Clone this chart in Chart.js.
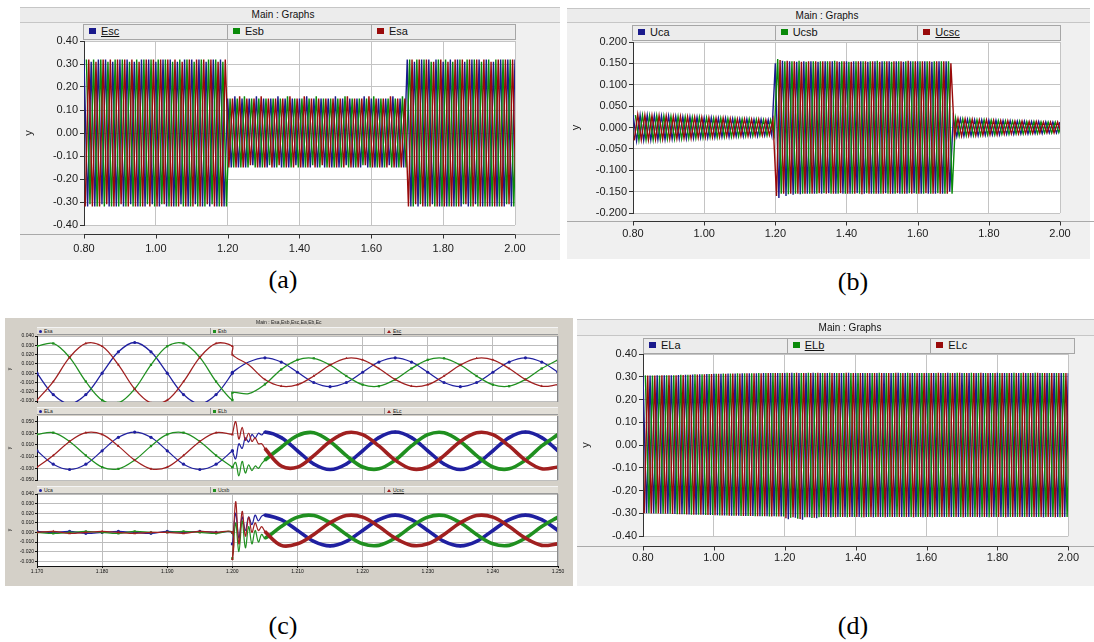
<!DOCTYPE html>
<html>
<head>
<meta charset="utf-8">
<title>Main : Graphs</title>
<script src="https://cdn.jsdelivr.net/npm/chart.js@4.4.1/dist/chart.umd.min.js"></script>
<style>
  body { margin: 0; width: 1094px; height: 642px; position: relative; overflow: hidden; background: #fff; font-family: "Liberation Sans", Arial, sans-serif; }
  .panel { position: absolute; background: #f0f0f0; }
  .bar { position: absolute; background: #ececec; border-top: 1px solid #c6c6c6; border-bottom: 1px solid #c6c6c6; box-sizing: border-box; z-index: 3; }
  .ttl { position: absolute; width: 200px; text-align: center; font-size: 10px; color: #111; z-index: 4; }
  .legend { position: absolute; display: flex; background: #ececec; border: 1px solid #a6a6a6; box-sizing: border-box; z-index: 3; }
  .legend div { flex: 1; border-right: 1px solid #a6a6a6; font-size: 11px; line-height: 13px; padding-left: 5px; white-space: nowrap; color: #111; }
  .legend div:last-child { border-right: none; }
  .sw { display: inline-block; width: 7px; height: 6px; margin-right: 5px; vertical-align: 1px; }
  canvas { position: absolute; z-index: 2; }
  .cap { position: absolute; font-family: "Liberation Serif", "Times New Roman", serif; font-size: 26px; color: #000; transform: translateX(-50%); }
  .cpanel { position: absolute; background: #d4d0c8; }
  .cttl { position: absolute; font-size: 5px; color: #222; z-index: 4; white-space: nowrap; }
  .clegend { position: absolute; display: flex; background: #e2dfd8; border-bottom: 1px solid #9a9a9a; border-top: 1px solid #f4f4f4; box-sizing: border-box; z-index: 3; }
  .clegend div { flex: 1; border-right: 1px solid #9a9a9a; font-size: 5px; line-height: 6px; padding-left: 2px; white-space: nowrap; color: #222; }
  .clegend div:last-child { border-right: none; }
  .mk { display: inline-block; width: 3px; height: 3px; margin-right: 2px; vertical-align: 0; }
  .tri { display: inline-block; width: 0; height: 0; border-left: 2px solid transparent; border-right: 2px solid transparent; border-bottom: 3px solid #a02020; margin-right: 2px; }
</style>
</head>
<body>

<!-- (a) -->
<div class="panel" style="left:20px;top:7px;width:540px;height:253px"></div>
<div class="bar" style="left:20px;top:7px;width:540px;height:16px"></div>
<div class="ttl" style="left:183px;top:9px">Main : Graphs</div>
<div class="legend" style="left:83px;top:24px;width:433px;height:16px">
  <div><span class="sw" style="background:#1a1a8c"></span><u>Esc</u></div>
  <div><span class="sw" style="background:#0a8a0a"></span>Esb</div>
  <div><span class="sw" style="background:#990a0a"></span>Esa</div>
</div>
<canvas id="chartA" width="540" height="231" style="left:20px;top:29px"></canvas>

<!-- (b) -->
<div class="panel" style="left:567px;top:8px;width:523px;height:251px"></div>
<div class="bar" style="left:567px;top:8px;width:523px;height:15px"></div>
<div class="ttl" style="left:727px;top:10px">Main : Graphs</div>
<div class="legend" style="left:632px;top:25px;width:429px;height:16px">
  <div><span class="sw" style="background:#1a1a8c"></span>Uca</div>
  <div><span class="sw" style="background:#0a8a0a"></span>Ucsb</div>
  <div><span class="sw" style="background:#990a0a"></span><u>Ucsc</u></div>
</div>
<canvas id="chartB" width="527" height="230" style="left:567px;top:29px"></canvas>

<!-- (c) -->
<div class="cpanel" style="left:5px;top:318px;width:568px;height:268px"></div>
<div class="cttl" style="left:256px;top:319px">Main : Esa,Esb,Esc,Ea,Eb,Ec</div>
<div class="clegend" style="left:37px;top:327px;width:521px;height:8px">
  <div><span class="mk" style="background:#2020a0;border-radius:50%"></span>Esa</div>
  <div><span class="mk" style="background:#209020"></span>Esb</div>
  <div><span class="tri"></span><u>Esc</u></div>
</div>
<div class="clegend" style="left:37px;top:407px;width:521px;height:8px">
  <div><span class="mk" style="background:#2020a0;border-radius:50%"></span>ELa</div>
  <div><span class="mk" style="background:#209020"></span>ELb</div>
  <div><span class="tri"></span><u>ELc</u></div>
</div>
<div class="clegend" style="left:37px;top:486px;width:521px;height:8px">
  <div><span class="mk" style="background:#2020a0;border-radius:50%"></span>Uca</div>
  <div><span class="mk" style="background:#209020"></span>Ucsb</div>
  <div><span class="tri"></span><u>Ucsc</u></div>
</div>
<canvas id="chartC1" width="568" height="76" style="left:5px;top:330px"></canvas>
<canvas id="chartC2" width="568" height="72" style="left:5px;top:412px"></canvas>
<canvas id="chartC3" width="568" height="96" style="left:5px;top:490px"></canvas>

<!-- (d) -->
<div class="panel" style="left:577px;top:319px;width:517px;height:267px"></div>
<div class="bar" style="left:577px;top:319px;width:517px;height:17px"></div>
<div class="ttl" style="left:750px;top:322px">Main : Graphs</div>
<div class="legend" style="left:643px;top:338px;width:432px;height:16px">
  <div><span class="sw" style="background:#1a1a8c"></span>ELa</div>
  <div><span class="sw" style="background:#0a8a0a"></span><u>ELb</u></div>
  <div><span class="sw" style="background:#990a0a"></span>ELc</div>
</div>
<canvas id="chartD" width="517" height="245" style="left:577px;top:341px"></canvas>

<div class="cap" style="left:283px;top:265px">(a)</div>
<div class="cap" style="left:853px;top:267px">(b)</div>
<div class="cap" style="left:283px;top:611px">(c)</div>
<div class="cap" style="left:853px;top:611px">(d)</div>

<script>
// ---- dense panels: one signed peak per half cycle (50 Hz -> 0.01 s) ----
const HALF_PERIOD = 0.01;

// (a) Esc / Esb / Esa
const startsA = [0.8, 0.80667, 0.80333];
const escPeaks = [
  0.32,-0.32,0.31,-0.32,0.32,-0.31,0.32,-0.32,0.31,-0.32,
  0.32,-0.32,0.32,-0.31,0.31,-0.32,0.32,-0.32,0.32,-0.31,
  0.31,-0.32,0.32,-0.32,0.32,-0.32,0.31,-0.31,0.32,-0.32,
  0.32,-0.31,0.32,-0.32,0.31,-0.32,0.32,-0.32,0.32,-0.32,
  0.15,-0.15,0.16,-0.15,0.15,-0.15,0.15,-0.14,0.16,-0.15,
  0.15,-0.15,0.15,-0.15,0.16,-0.15,0.15,-0.15,0.15,-0.14,
  0.15,-0.15,0.16,-0.15,0.15,-0.15,0.15,-0.15,0.15,-0.15,
  0.16,-0.15,0.15,-0.14,0.15,-0.15,0.15,-0.15,0.16,-0.15,
  0.15,-0.15,0.15,-0.15,0.15,-0.14,0.16,-0.15,0.15,-0.15,
  0.32,-0.32,0.31,-0.32,0.32,-0.32,0.32,-0.31,0.32,-0.32,
  0.31,-0.32,0.32,-0.32,0.32,-0.32,0.31,-0.32,0.32,-0.31,
  0.32,-0.32,0.32,-0.32,0.31,-0.32,0.32,-0.32,0.32,-0.32,0.32
];
const esbPeaks = [
  0.32,-0.31,0.32,-0.32,0.32,-0.32,0.31,-0.32,0.32,-0.32,
  0.32,-0.32,0.31,-0.32,0.32,-0.32,0.32,-0.31,0.32,-0.32,
  0.32,-0.31,0.32,-0.32,0.31,-0.32,0.32,-0.32,0.32,-0.32,
  0.31,-0.32,0.32,-0.32,0.32,-0.31,0.32,-0.32,0.31,-0.32,
  0.15,-0.15,0.15,-0.15,0.16,-0.15,0.15,-0.15,0.15,-0.15,
  0.15,-0.14,0.15,-0.15,0.15,-0.15,0.16,-0.15,0.15,-0.15,
  0.15,-0.15,0.15,-0.14,0.16,-0.15,0.15,-0.15,0.15,-0.15,
  0.15,-0.15,0.16,-0.15,0.15,-0.15,0.15,-0.14,0.15,-0.15,
  0.16,-0.15,0.15,-0.15,0.15,-0.15,0.15,-0.15,0.16,-0.15,
  0.32,-0.32,0.32,-0.31,0.32,-0.32,0.31,-0.32,0.32,-0.32,
  0.32,-0.32,0.31,-0.32,0.32,-0.31,0.32,-0.32,0.32,-0.32,
  0.31,-0.32,0.32,-0.32,0.32,-0.32,0.32,-0.31,0.32,-0.32,0.31
];
const esaPeaks = [
  -0.32,0.32,-0.32,0.31,-0.32,0.32,-0.31,0.32,-0.32,0.32,
  -0.31,0.32,-0.32,0.32,-0.32,0.31,-0.32,0.32,-0.32,0.32,
  -0.32,0.32,-0.31,0.32,-0.32,0.32,-0.32,0.31,-0.32,0.32,
  -0.32,0.32,-0.32,0.32,-0.31,0.32,-0.32,0.31,-0.32,0.32,
  -0.15,0.15,-0.15,0.16,-0.15,0.15,-0.14,0.15,-0.15,0.16,
  -0.15,0.15,-0.15,0.15,-0.14,0.15,-0.15,0.16,-0.15,0.15,
  -0.15,0.16,-0.15,0.15,-0.15,0.15,-0.14,0.15,-0.15,0.15,
  -0.15,0.15,-0.15,0.16,-0.15,0.15,-0.15,0.15,-0.14,0.16,
  -0.15,0.15,-0.15,0.15,-0.15,0.16,-0.15,0.15,-0.15,0.15,
  -0.32,0.32,-0.31,0.32,-0.32,0.32,-0.32,0.31,-0.32,0.32,
  -0.32,0.31,-0.32,0.32,-0.32,0.32,-0.31,0.32,-0.32,0.32,
  -0.32,0.32,-0.32,0.31,-0.32,0.32,-0.32,0.32,-0.31,0.32,-0.32
];

// (b) Uca / Ucsb / Ucsc
const startsB = [0.8, 0.80667, 0.80333];
const ucaPeaks = [
  0.030,-0.031,0.029,-0.030,0.029,-0.029,0.028,-0.028,0.027,-0.028,
  0.027,-0.027,0.026,-0.026,0.025,-0.026,0.025,-0.025,0.024,-0.024,
  0.023,-0.024,0.023,-0.023,0.022,-0.022,0.022,-0.022,0.021,-0.021,
  0.020,-0.021,0.020,-0.020,0.019,-0.020,0.019,-0.019,0.018,-0.019,
  0.150,-0.165,0.156,-0.160,0.155,-0.157,0.154,-0.156,0.155,-0.155,
  0.155,-0.155,0.154,-0.155,0.155,-0.154,0.155,-0.155,0.154,-0.155,
  0.155,-0.155,0.155,-0.154,0.155,-0.155,0.154,-0.155,0.155,-0.155,
  0.155,-0.154,0.155,-0.155,0.155,-0.155,0.154,-0.155,0.155,-0.154,
  0.155,-0.155,0.155,-0.155,0.154,-0.155,0.155,-0.155,0.155,-0.150,
  0.022,-0.021,0.020,-0.020,0.019,-0.019,0.018,-0.019,0.018,-0.018,
  0.017,-0.017,0.017,-0.017,0.016,-0.016,0.016,-0.016,0.015,-0.015,
  0.015,-0.015,0.014,-0.014,0.014,-0.014,0.013,-0.013,0.013,-0.013,0.013
];
const ucsbPeaks = [
  0.029,-0.030,0.029,-0.029,0.028,-0.029,0.028,-0.028,0.027,-0.027,
  0.026,-0.027,0.026,-0.026,0.025,-0.025,0.024,-0.025,0.024,-0.024,
  0.023,-0.023,0.022,-0.023,0.022,-0.022,0.021,-0.022,0.021,-0.021,
  0.020,-0.020,0.020,-0.020,0.019,-0.019,0.018,-0.019,0.018,-0.018,
  0.160,-0.155,0.155,-0.156,0.155,-0.155,0.156,-0.155,0.154,-0.155,
  0.155,-0.155,0.155,-0.154,0.155,-0.155,0.156,-0.155,0.155,-0.155,
  0.154,-0.155,0.155,-0.155,0.155,-0.154,0.155,-0.155,0.156,-0.155,
  0.155,-0.155,0.154,-0.155,0.155,-0.155,0.155,-0.154,0.155,-0.155,
  0.155,-0.155,0.155,-0.155,0.155,-0.154,0.155,-0.155,0.155,-0.155,
  0.021,-0.020,0.020,-0.019,0.019,-0.019,0.018,-0.018,0.018,-0.017,
  0.017,-0.017,0.016,-0.016,0.016,-0.016,0.015,-0.015,0.015,-0.015,
  0.014,-0.014,0.014,-0.014,0.013,-0.013,0.013,-0.013,0.013,-0.012,0.012
];
const ucscPeaks = [
  -0.030,0.030,-0.029,0.029,-0.029,0.028,-0.028,0.028,-0.027,0.027,
  -0.027,0.026,-0.026,0.026,-0.025,0.025,-0.025,0.024,-0.024,0.024,
  -0.023,0.023,-0.023,0.022,-0.022,0.022,-0.021,0.021,-0.021,0.020,
  -0.020,0.020,-0.020,0.019,-0.019,0.019,-0.019,0.018,-0.018,0.018,
  -0.160,0.158,-0.155,0.156,-0.155,0.155,-0.155,0.154,-0.155,0.155,
  -0.155,0.155,-0.154,0.155,-0.155,0.155,-0.155,0.155,-0.154,0.155,
  -0.155,0.154,-0.155,0.155,-0.156,0.155,-0.155,0.155,-0.155,0.154,
  -0.155,0.155,-0.155,0.155,-0.154,0.155,-0.155,0.156,-0.155,0.155,
  -0.155,0.155,-0.154,0.155,-0.155,0.155,-0.155,0.155,-0.155,0.150,
  -0.021,0.021,-0.020,0.020,-0.019,0.019,-0.019,0.018,-0.018,0.018,
  -0.017,0.017,-0.017,0.016,-0.016,0.016,-0.015,0.015,-0.015,0.015,
  -0.014,0.014,-0.014,0.014,-0.013,0.013,-0.013,0.013,-0.013,0.013,-0.012
];

// (d) ELa / ELb / ELc
const startsD = [0.8, 0.80667, 0.80333];
const elaPeaks = [
  0.305,-0.300,0.305,-0.301,0.306,-0.302,0.306,-0.302,0.307,-0.303,
  0.308,-0.304,0.309,-0.305,0.310,-0.306,0.311,-0.307,0.312,-0.308,
  0.313,-0.309,0.313,-0.310,0.314,-0.311,0.314,-0.311,0.315,-0.312,
  0.315,-0.312,0.315,-0.313,0.316,-0.313,0.316,-0.313,0.316,-0.314,
  0.316,-0.326,0.317,-0.320,0.316,-0.328,0.316,-0.318,0.317,-0.322,
  0.316,-0.316,0.316,-0.317,0.316,-0.316,0.316,-0.316,0.317,-0.316,
  0.316,-0.316,0.316,-0.316,0.316,-0.317,0.316,-0.316,0.316,-0.316,
  0.316,-0.316,0.317,-0.316,0.316,-0.316,0.316,-0.316,0.316,-0.317,
  0.316,-0.316,0.316,-0.316,0.316,-0.316,0.317,-0.316,0.316,-0.316,
  0.316,-0.316,0.316,-0.316,0.316,-0.317,0.316,-0.316,0.316,-0.316,
  0.317,-0.316,0.316,-0.316,0.316,-0.316,0.316,-0.316,0.316,-0.316,
  0.316,-0.316,0.316,-0.317,0.316,-0.316,0.316,-0.316,0.316,-0.316,0.316
];
const elbPeaks = [
  0.306,-0.300,0.305,-0.301,0.305,-0.302,0.307,-0.302,0.307,-0.304,
  0.309,-0.304,0.309,-0.306,0.311,-0.306,0.311,-0.308,0.312,-0.308,
  0.313,-0.310,0.314,-0.310,0.314,-0.311,0.315,-0.312,0.315,-0.312,
  0.315,-0.313,0.316,-0.313,0.316,-0.314,0.316,-0.314,0.316,-0.314,
  0.317,-0.320,0.316,-0.324,0.316,-0.318,0.317,-0.321,0.316,-0.317,
  0.316,-0.316,0.317,-0.316,0.316,-0.316,0.316,-0.317,0.316,-0.316,
  0.316,-0.317,0.316,-0.316,0.316,-0.316,0.317,-0.316,0.316,-0.316,
  0.316,-0.316,0.316,-0.316,0.317,-0.316,0.316,-0.316,0.316,-0.316,
  0.316,-0.317,0.316,-0.316,0.316,-0.316,0.316,-0.316,0.317,-0.316,
  0.316,-0.316,0.317,-0.316,0.316,-0.316,0.316,-0.317,0.316,-0.316,
  0.316,-0.316,0.316,-0.316,0.317,-0.316,0.316,-0.316,0.316,-0.316,
  0.317,-0.316,0.316,-0.316,0.316,-0.316,0.316,-0.317,0.316,-0.316,0.316
];
const elcPeaks = [
  -0.300,0.305,-0.301,0.305,-0.301,0.306,-0.302,0.306,-0.303,0.307,
  -0.304,0.308,-0.305,0.309,-0.306,0.310,-0.307,0.311,-0.308,0.312,
  -0.309,0.313,-0.310,0.313,-0.311,0.314,-0.311,0.314,-0.312,0.315,
  -0.312,0.315,-0.313,0.315,-0.313,0.316,-0.314,0.316,-0.314,0.316,
  -0.322,0.316,-0.318,0.317,-0.325,0.316,-0.317,0.316,-0.320,0.317,
  -0.316,0.316,-0.316,0.316,-0.317,0.316,-0.316,0.317,-0.316,0.316,
  -0.316,0.316,-0.317,0.316,-0.316,0.316,-0.316,0.316,-0.317,0.316,
  -0.316,0.317,-0.316,0.316,-0.316,0.316,-0.317,0.316,-0.316,0.316,
  -0.316,0.316,-0.316,0.317,-0.316,0.316,-0.316,0.316,-0.316,0.317,
  -0.317,0.316,-0.316,0.316,-0.316,0.317,-0.316,0.316,-0.316,0.316,
  -0.316,0.316,-0.317,0.316,-0.316,0.316,-0.316,0.317,-0.316,0.316,
  -0.316,0.317,-0.316,0.316,-0.316,0.316,-0.317,0.316,-0.316,0.316,-0.316
];

// ---- (c) zoom on the fault at t = 1.2 s ----
const cTime = [
  1.170,1.1725,1.175,1.1775,1.180,1.1825,1.185,1.1875,1.190,1.1925,1.195,1.1975,1.200,
  1.200,1.2025,1.205,1.2075,1.210,1.2125,1.215,1.2175,1.220,1.2225,1.225,1.2275,
  1.230,1.2325,1.235,1.2375,1.240,1.2425,1.245,1.2475,1.250
];
const esaC = [
  0,-0.023,-0.033,-0.023,0,0.023,0.033,0.023,0,-0.023,-0.033,-0.023,0,
  0.001,0.012,0.0165,0.012,0.001,-0.010,-0.0145,-0.010,0.001,0.012,0.0165,0.012,
  0.001,-0.010,-0.0145,-0.010,0.001,0.012,0.0165,0.012,0.001
];
const esbC = [
  0.029,0.032,0.017,-0.009,-0.029,-0.032,-0.017,0.009,0.029,0.032,0.017,-0.009,-0.029,
  -0.021,-0.022,-0.012,0.004,0.0144,0.016,0.0088,-0.003,-0.0124,-0.014,-0.0068,0.005,
  0.0144,0.016,0.0088,-0.003,-0.0124,-0.014,-0.0068,0.005,0.0144
];
const escC = [
  -0.029,-0.009,0.017,0.032,0.029,0.009,-0.017,-0.032,-0.029,-0.009,0.017,0.032,0.029,
  0.020,0.009,-0.0068,-0.014,-0.0124,-0.003,0.0088,0.016,0.0144,0.005,-0.0068,-0.014,
  -0.0124,-0.003,0.0088,0.016,0.0144,0.005,-0.0068,-0.014,-0.0124
];

const cTimeT = [
  1.170,1.1725,1.175,1.1775,1.180,1.1825,1.185,1.1875,1.190,1.1925,1.195,1.1975,1.200,
  1.200,1.2005,1.201,1.2015,1.202,1.2025,1.203,1.2035,1.204,1.2045,1.205,
  1.2075,1.210,1.2125,1.215,1.2175,1.220,1.2225,1.225,1.2275,
  1.230,1.2325,1.235,1.2375,1.240,1.2425,1.245,1.2475,1.250
];
const elaC = [
  0,-0.023,-0.032,-0.023,0,0.023,0.032,0.023,0,-0.023,-0.032,-0.023,0,
  0,-0.014,0.012,0.004,0.022,0.015,0.028,0.022,0.030,0.027,0.032,
  0.0226,0,-0.0226,-0.032,-0.0226,0,0.0226,0.032,0.0226,
  0,-0.0226,-0.032,-0.0226,0,0.0226,0.032,0.0226,0
];
const elbC = [
  0.028,0.031,0.016,-0.008,-0.028,-0.031,-0.016,0.008,0.028,0.031,0.016,-0.008,-0.028,
  -0.028,-0.020,-0.043,-0.018,-0.038,-0.024,-0.034,-0.026,-0.030,-0.022,-0.016,
  0.006,0.026,0.0309,0.016,-0.0083,-0.0277,-0.0309,-0.016,0.0083,
  0.0277,0.0309,0.016,-0.0083,-0.0277,-0.0309,-0.016,0.0083,0.0277
];
const elcC = [
  -0.028,-0.008,0.016,0.031,0.028,0.008,-0.016,-0.031,-0.028,-0.008,0.016,0.031,0.028,
  0.028,0.050,0.020,0.040,0.018,0.030,0.016,0.022,0.012,0.012,0.004,
  -0.026,-0.028,-0.0083,0.016,0.0309,0.0277,0.0083,-0.016,-0.0309,
  -0.0277,-0.0083,0.016,0.0309,0.0277,0.0083,-0.016,-0.0309,-0.0277
];
const ucaC = [
  0.001,0,0.001,-0.001,0,0.001,0,-0.001,0.001,0,0.001,0,0,
  -0.012,0.020,-0.006,0.016,0.002,0.016,0.008,0.018,0.012,0.017,0.018,
  0.0133,0.002,-0.0093,-0.014,-0.0093,0.002,0.0133,0.018,0.0133,
  0.002,-0.0093,-0.014,-0.0093,0.002,0.0133,0.018,0.0133,0.002
];
const ucsbC = [
  0,-0.001,0,0.001,0,-0.001,0.001,0,0,0.001,0,-0.001,0,
  -0.027,0.010,-0.020,0.012,-0.016,0.006,-0.012,0.002,-0.010,-0.002,-0.006,
  0.0061,0.0159,0.0175,0.010,-0.0021,-0.0119,-0.0135,-0.006,0.0061,
  0.0159,0.0175,0.010,-0.0021,-0.0119,-0.0135,-0.006,0.0061,0.0159
];
const ucscC = [
  0,0.001,-0.001,0,0.001,0,-0.001,0,0,-0.001,0.001,0,0,
  -0.028,0.032,-0.012,0.022,-0.004,0.016,0,0.010,0.002,0.006,0.001,
  -0.0135,-0.0119,-0.0021,0.010,0.0175,0.0159,0.0061,-0.006,-0.0135,
  -0.0119,-0.0021,0.010,0.0175,0.0159,0.0061,-0.006,-0.0135,-0.0119
];

const DENSE_COLORS = ['#1a1a8c', '#0a8a0a', '#990a0a'];
const SUB_COLORS = ['#2020a0', '#209020', '#a02020'];
const SUB_MARKERS = ['circle', 'rect', 'triangle'];

// white plot background + detached x axis line like the PSCAD graphs
const framePlugin = {
  id: 'frame',
  beforeDraw(chart) {
    const { ctx, chartArea: a } = chart;
    ctx.save();
    ctx.fillStyle = '#ffffff';
    ctx.fillRect(a.left, a.top, a.right - a.left, a.bottom - a.top);
    ctx.restore();
  },
  afterDraw(chart, args, opts) {
    const { ctx, chartArea: a } = chart;
    ctx.save();
    ctx.lineWidth = 1;
    if (opts.edge) {
      ctx.strokeStyle = opts.edge;
      ctx.beginPath();
      ctx.moveTo(Math.round(a.right) - 0.5, a.top);
      ctx.lineTo(Math.round(a.right) - 0.5, a.bottom);
      ctx.stroke();
    }
    if (opts.axisGap) {
      const y = Math.round(a.bottom + opts.axisGap) + 0.5;
      ctx.strokeStyle = '#a9a9a9';
      ctx.beginPath();
      ctx.moveTo(0, y);
      ctx.lineTo(chart.width, y);
      ctx.stroke();
      const xs = chart.scales.x;
      ctx.strokeStyle = '#333';
      ctx.beginPath();
      ctx.moveTo(a.left, y);
      ctx.lineTo(a.right, y);
      xs.ticks.forEach(t => {
        const px = Math.round(xs.getPixelForValue(t.value)) + 0.5;
        ctx.moveTo(px, y);
        ctx.lineTo(px, y + 4);
      });
      ctx.stroke();
    }
    ctx.restore();
  }
};

function denseChart(id, starts, series, yAxis, box) {
  const datasets = series.map((vals, s) => ({
    data: vals.map((v, i) => ({ x: starts[s] + i * HALF_PERIOD, y: v })),
    borderColor: DENSE_COLORS[s],
    borderWidth: 1.4,
    pointRadius: 0,
    order: 2 - s
  }));
  new Chart(document.getElementById(id), {
    type: 'line',
    data: { datasets },
    options: {
      responsive: false,
      animation: false,
      devicePixelRatio: 1,
      layout: { padding: box.padding },
      plugins: {
        legend: { display: false },
        tooltip: { enabled: false },
        frame: { axisGap: box.axisGap }
      },
      scales: {
        x: {
          type: 'linear', min: 0.8, max: 2.0,
          ticks: { stepSize: 0.2, padding: box.labelPad, color: '#1a1a1a', font: { size: 11 }, maxRotation: 0,
                   callback: v => v.toFixed(2) },
          grid: { color: '#c4c4c4', drawTicks: false },
          border: { display: false },
          afterFit: s => { s.height = box.xHeight; }
        },
        y: {
          min: yAxis.min, max: yAxis.max,
          ticks: { stepSize: yAxis.step, color: '#1a1a1a', font: { size: 11 }, padding: 2,
                   callback: v => v.toFixed(yAxis.digits) },
          grid: { color: '#c4c4c4', tickLength: 4, tickColor: '#333' },
          border: { color: '#333' },
          title: { display: true, text: 'y', color: '#1a1a1a', font: { size: 11 }, padding: { top: 2, bottom: 0 } },
          afterFit: s => { s.width = box.yWidth; }
        }
      }
    },
    plugins: [framePlugin]
  });
}

function subChart(id, times, series, yAxis, box) {
  const datasets = series.map((vals, s) => ({
    data: vals.map((v, i) => ({ x: times[i], y: v })),
    borderColor: SUB_COLORS[s],
    backgroundColor: SUB_COLORS[s],
    borderWidth: 1.3,
    tension: 0.35,
    pointStyle: SUB_MARKERS[s],
    pointRadius: c => (c.raw && c.raw.x > 1.2 && c.raw.x < 1.205) ? 0 : 1.6,
    pointBorderWidth: 0,
    segment: box.thick ? { borderWidth: c => (c.p0.parsed.x >= 1.205 ? 3.6 : 1.2) } : {},
    order: 2 - s
  }));
  new Chart(document.getElementById(id), {
    type: 'line',
    data: { datasets },
    options: {
      responsive: false,
      animation: false,
      devicePixelRatio: 1,
      layout: { padding: box.padding },
      plugins: {
        legend: { display: false },
        tooltip: { enabled: false },
        frame: { edge: '#8c8c8c' }
      },
      scales: {
        x: {
          type: 'linear', min: 1.17, max: 1.25,
          ticks: { display: box.showX, stepSize: 0.01, padding: 1, color: '#111', font: { size: 5 }, maxRotation: 0,
                   callback: v => v.toFixed(3) },
          grid: { color: '#bdbdbd', drawTicks: box.showX, tickLength: 2, tickColor: '#111' },
          border: { display: box.showX, color: '#111' },
          afterFit: s => { s.height = box.xHeight; }
        },
        y: {
          min: yAxis.min, max: yAxis.max,
          ticks: { stepSize: 0.01, includeBounds: false, color: '#111', font: { size: 5 }, padding: 1,
                   callback: v => v.toFixed(3) },
          grid: { color: '#bdbdbd', tickLength: 2, tickColor: '#111' },
          border: { color: '#111' },
          title: { display: true, text: 'y', color: '#111', font: { size: 5 }, padding: { top: 2, bottom: 0 } },
          afterFit: s => { s.width = 32; }
        }
      }
    },
    plugins: [framePlugin]
  });
}

denseChart('chartA', startsA, [escPeaks, esbPeaks, esaPeaks],
  { min: -0.4, max: 0.4, step: 0.1, digits: 2 },
  { padding: { left: 0, top: 12, right: 45, bottom: 0 }, yWidth: 64, xHeight: 35, labelPad: 17, axisGap: 9 });

denseChart('chartB', startsB, [ucaPeaks, ucsbPeaks, ucscPeaks],
  { min: -0.2, max: 0.2, step: 0.05, digits: 3 },
  { padding: { left: 0, top: 13, right: 34, bottom: 0 }, yWidth: 66, xHeight: 46, labelPad: 14, axisGap: 8 });

denseChart('chartD', startsD, [elaPeaks, elbPeaks, elcPeaks],
  { min: -0.4, max: 0.4, step: 0.1, digits: 2 },
  { padding: { left: 0, top: 13, right: 20, bottom: 0 }, yWidth: 66, xHeight: 50, labelPad: 15, axisGap: 10 });

subChart('chartC1', cTime, [esaC, esbC, escC], { min: -0.031, max: 0.04 },
  { padding: { left: 0, top: 6, right: 15, bottom: 2 }, showX: false, xHeight: 0, thick: false });

subChart('chartC2', cTimeT, [elaC, elbC, elcC], { min: -0.05, max: 0.0595 },
  { padding: { left: 0, top: 3, right: 15, bottom: 3 }, showX: false, xHeight: 0, thick: true });

subChart('chartC3', cTimeT, [ucaC, ucsbC, ucscC], { min: -0.035, max: 0.04 },
  { padding: { left: 0, top: 4, right: 15, bottom: 0 }, showX: true, xHeight: 20, thick: true });
</script>
</body>
</html>
